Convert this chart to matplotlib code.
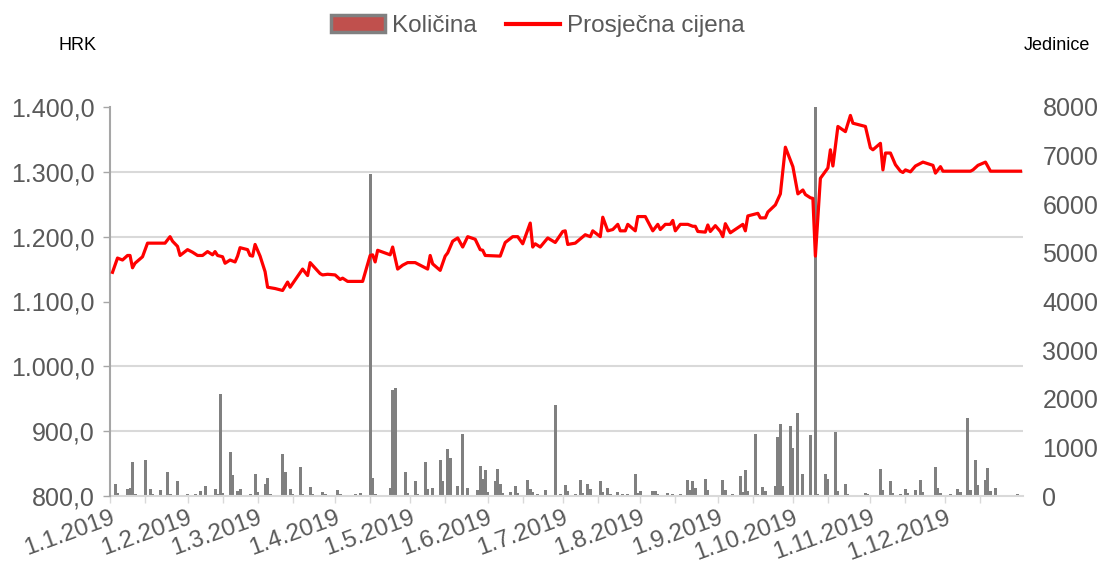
import matplotlib
matplotlib.use("Agg")
import matplotlib.pyplot as plt
import matplotlib.dates as mdates
from matplotlib.patches import Patch
from matplotlib.lines import Line2D
from matplotlib.ticker import FuncFormatter, FixedLocator
import numpy as np
import pandas as pd

plt.rcParams['font.family'] = ['Liberation Sans', 'DejaVu Sans']

START = pd.Timestamp('2019-01-01')

# Average price (HRK) - day offset from 1.1.2019 and value
price_days = [1, 3, 5, 7, 8, 9, 10, 13, 15, 22, 24, 25, 27, 28, 31, 33, 35, 37, 39, 41, 42, 43, 45, 46,
              48, 50, 51, 52, 55, 56, 57, 58, 60, 62, 63, 66, 69, 71, 72, 77, 79, 80, 84, 85, 87, 90,
              92, 93, 95, 101, 104, 105, 106, 107, 112, 113, 115, 117, 119, 122, 127, 128, 129, 132,
              134, 135, 137, 139, 141, 143, 146, 148, 149, 150, 156, 158, 161, 163, 165, 168, 169, 170,
              172, 175, 178, 181, 182, 183, 186, 190, 192, 193, 196, 197, 199, 201, 203, 204, 206, 207,
              210, 211, 214, 217, 219, 220, 222, 224, 225, 226, 228, 231, 233, 234, 235, 238, 239, 240,
              242, 244, 245, 246, 248, 253, 254, 255, 259, 260, 262, 263, 266, 268, 270, 273, 275, 277,
              278, 280, 281, 282, 284, 287, 288, 289, 291, 294, 296, 297, 302, 304, 305, 308, 309, 310,
              312, 314, 316, 317, 318, 320, 322, 325, 329, 330, 332, 333, 344, 345, 347, 350, 352, 364]
price_vals = [1145, 1167, 1164, 1171, 1171, 1152, 1159, 1169, 1190, 1190, 1200, 1193, 1185, 1171, 1180,
              1176, 1171, 1171, 1177, 1172, 1177, 1171, 1169, 1159, 1164, 1161, 1170, 1183, 1180, 1171,
              1170, 1188, 1170, 1146, 1122, 1120, 1117, 1130, 1122, 1150, 1140, 1160, 1143, 1141, 1142,
              1141, 1134, 1136, 1131, 1131, 1171, 1172, 1161, 1179, 1172, 1184, 1150, 1156, 1160, 1160,
              1150, 1171, 1158, 1148, 1170, 1175, 1193, 1198, 1184, 1200, 1196, 1180, 1179, 1171, 1170,
              1191, 1200, 1200, 1189, 1221, 1184, 1189, 1184, 1198, 1191, 1208, 1209, 1188, 1190, 1203,
              1200, 1209, 1200, 1230, 1209, 1211, 1219, 1209, 1209, 1219, 1209, 1231, 1231, 1209, 1219,
              1211, 1219, 1219, 1225, 1209, 1219, 1219, 1216, 1216, 1208, 1207, 1218, 1208, 1217, 1208,
              1200, 1220, 1206, 1219, 1209, 1232, 1236, 1229, 1229, 1238, 1249, 1266, 1338, 1308, 1266,
              1272, 1265, 1260, 1259, 1170, 1290, 1306, 1334, 1309, 1370, 1362, 1387, 1375, 1370, 1337,
              1334, 1344, 1303, 1329, 1329, 1311, 1301, 1299, 1303, 1300, 1309, 1315, 1310, 1298, 1308,
              1301, 1301, 1303, 1310, 1315, 1301, 1301]

# Quantity (units) - day offset from 1.1.2019 and value
qty_days = [2, 3, 7, 8, 9, 10, 14, 16, 17, 20, 23, 24, 27, 29, 31, 34, 36, 38, 42, 43, 44, 45, 48, 49,
            51, 52, 56, 58, 59, 62, 63, 64, 69, 70, 72, 73, 76, 77, 80, 81, 85, 86, 91, 92, 94, 98, 100,
            104, 105, 106, 112, 113, 114, 118, 119, 120, 122, 123, 126, 127, 129, 132, 133, 135, 136,
            139, 141, 143, 147, 148, 149, 150, 151, 154, 155, 156, 157, 160, 162, 163, 167, 168, 169,
            171, 174, 178, 180, 182, 183, 186, 188, 189, 191, 192, 196, 197, 199, 200, 203, 205, 207,
            210, 211, 212, 217, 218, 219, 223, 225, 228, 231, 232, 233, 234, 238, 239, 245, 246, 249,
            252, 253, 254, 255, 258, 259, 261, 262, 266, 267, 268, 269, 272, 273, 275, 277, 280, 282,
            283, 286, 287, 290, 291, 294, 295, 302, 303, 308, 309, 312, 313, 316, 318, 319, 322, 324,
            325, 330, 331, 332, 336, 339, 340, 343, 344, 346, 347, 350, 351, 352, 354, 357, 360, 363]
qty_vals = [240, 70, 140, 160, 690, 40, 740, 150, 40, 120, 500, 40, 300, 30, 40, 50, 100, 200, 140, 40,
            2100, 60, 915, 430, 100, 150, 50, 450, 80, 250, 365, 40, 871, 500, 137, 40, 604, 40, 192,
            40, 90, 40, 130, 40, 30, 40, 70, 6620, 377, 50, 170, 2175, 2230, 500, 60, 30, 310, 40, 700,
            150, 172, 735, 310, 960, 790, 206, 1270, 172, 120, 620, 343, 530, 80, 310, 550, 240, 60, 90,
            206, 60, 330, 137, 80, 40, 123, 1875, 40, 220, 100, 40, 330, 60, 254, 137, 310, 80, 172, 40,
            90, 40, 40, 460, 60, 100, 100, 100, 50, 60, 40, 40, 323, 120, 310, 160, 357, 117, 323, 117,
            40, 405, 80, 530, 100, 1285, 40, 185, 100, 206, 1215, 1475, 206, 1440, 995, 1715, 446, 1250,
            8500, 40, 446, 343, 1325, 100, 240, 40, 70, 40, 550, 120, 310, 60, 40, 137, 60, 117, 323,
            80, 600, 170, 60, 40, 150, 80, 1600, 120, 735, 220, 330, 570, 100, 172, 30, 30, 40]

series_names = ['Količina', 'Prosječna cijena']
left_unit = 'HRK'
right_unit = 'Jedinice'

price_dates = START + pd.to_timedelta(price_days, unit='D')
qty_dates = START + pd.to_timedelta(qty_days, unit='D')

W, H = 1098, 565
fig = plt.figure(figsize=(W / 100, H / 100), dpi=100)
L, R, B, T = 110, 1023, 496, 107
axb = fig.add_axes([L / W, 1 - B / H, (R - L) / W, (B - T) / H])
axl = axb.twinx()

txt_col = '#595959'
grid_col = '#D9D9D9'
FS = 18

# bars (right scale)
axb.bar(qty_dates, qty_vals, width=1.2, color='#808080', edgecolor='none', zorder=2)
axb.set_ylim(0, 8000)
axb.yaxis.tick_right()
axb.set_yticks(np.arange(0, 8001, 1000))
axb.yaxis.set_major_formatter(FuncFormatter(lambda v, p: f"{int(v)}"))
axb.tick_params(axis='y', which='major', length=0, pad=14, labelsize=FS, labelcolor=txt_col)
axb.yaxis.set_minor_locator(FixedLocator(np.linspace(0, 8000, 7)))
axb.tick_params(axis='y', which='minor', length=0)
axb.grid(True, axis='y', which='minor', color=grid_col, linewidth=1.5, zorder=0)
axb.set_axisbelow(True)

# line (left scale)
axl.plot(price_dates, price_vals, color='#FF0000', linewidth=2.3, zorder=3)
axl.set_ylim(800, 1400)
axl.yaxis.tick_left()
axl.set_yticks(np.arange(800, 1401, 100))
axl.yaxis.set_major_formatter(FuncFormatter(
    lambda v, p: f"{v:,.1f}".replace(',', 'X').replace('.', ',').replace('X', '.')))
axl.tick_params(axis='y', length=5, width=1, color='#A6A6A6', pad=6, labelsize=FS, labelcolor=txt_col)

axb.set_xlim(pd.Timestamp('2019-01-01'), pd.Timestamp('2020-01-01'))
month_ticks = pd.date_range('2019-01-01', '2019-12-01', freq='MS')
axb.set_xticks(month_ticks)
axb.set_xticklabels([f"{d.day}.{d.month}.{d.year}" for d in month_ticks],
                    rotation=20, ha='right', va='top', rotation_mode='anchor')
axb.xaxis.set_minor_locator(mdates.MonthLocator(bymonthday=15))
axb.tick_params(axis='x', which='both', length=5, width=1, color=grid_col, direction='out')
axb.tick_params(axis='x', which='major', labelsize=17.5, labelcolor=txt_col, pad=3)

for ax in (axb, axl):
    for s in ('top', 'right', 'left', 'bottom'):
        ax.spines[s].set_visible(False)
axb.spines['bottom'].set_visible(True)
axb.spines['bottom'].set_color(grid_col)
axb.spines['bottom'].set_linewidth(1.5)
axl.spines['left'].set_visible(True)
axl.spines['left'].set_color('#A6A6A6')
axl.spines['left'].set_linewidth(1.5)

# unit labels
fig.text(78 / W, 1 - 45 / H, left_unit, ha='center', va='center', fontsize=13, color='black')
fig.text(1090 / W, 1 - 45 / H, right_unit, ha='right', va='center', fontsize=13, color='black')

handles = [Patch(facecolor='#C0504D', edgecolor='#808080', linewidth=2.5),
           Line2D([0], [0], color='#FF0000', linewidth=3)]
fig.legend(handles, series_names, loc='center', bbox_to_anchor=(538 / W, 1 - 26 / H),
           ncol=2, frameon=False, fontsize=17.5, handlelength=2.2, handletextpad=0.3,
           columnspacing=1.2, labelcolor=txt_col)

fig.savefig('out.png', dpi=100)
